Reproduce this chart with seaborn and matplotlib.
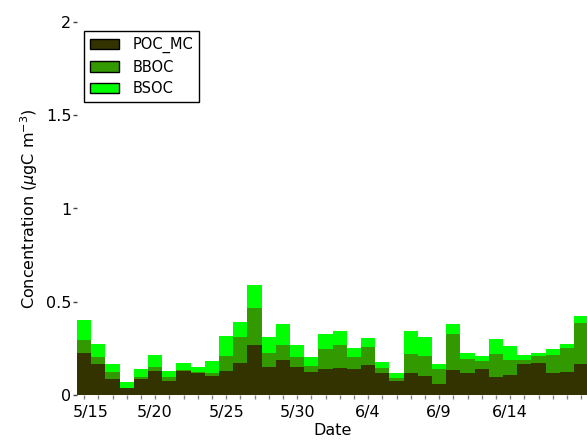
import numpy as np
import pandas as pd
import matplotlib
matplotlib.use("Agg")
import matplotlib.pyplot as plt
from matplotlib.patches import Patch
from matplotlib.transforms import ScaledTranslation
import seaborn as sns

dates = ["5/15", "5/16", "5/17", "5/18", "5/19", "5/20", "5/21", "5/22", "5/23",
         "5/24", "5/25", "5/26", "5/27", "5/28", "5/29", "5/30", "5/31", "6/1",
         "6/2", "6/3", "6/4", "6/5", "6/6", "6/7", "6/8", "6/9", "6/10", "6/11",
         "6/12", "6/13", "6/14", "6/15", "6/16", "6/17", "6/18", "6/19"]
poc_mc = [0.223, 0.164, 0.084, 0.036, 0.084, 0.127, 0.073, 0.127, 0.116, 0.100,
          0.127, 0.170, 0.266, 0.148, 0.186, 0.148, 0.122, 0.138, 0.143, 0.138,
          0.159, 0.116, 0.073, 0.116, 0.100, 0.057, 0.132, 0.116, 0.138, 0.095,
          0.105, 0.164, 0.170, 0.116, 0.122, 0.164]
bboc = [0.070, 0.038, 0.038, 0.003, 0.011, 0.021, 0.022, 0.005, 0.006, 0.016,
        0.080, 0.139, 0.199, 0.075, 0.080, 0.054, 0.032, 0.107, 0.123, 0.064,
        0.097, 0.027, 0.016, 0.102, 0.107, 0.081, 0.193, 0.075, 0.043, 0.123,
        0.081, 0.022, 0.037, 0.097, 0.128, 0.220]
bsoc = [0.107, 0.070, 0.042, 0.029, 0.043, 0.065, 0.032, 0.038, 0.026, 0.065,
        0.108, 0.081, 0.123, 0.086, 0.113, 0.064, 0.048, 0.080, 0.075, 0.048,
        0.048, 0.032, 0.027, 0.123, 0.102, 0.026, 0.054, 0.032, 0.026, 0.080,
        0.075, 0.027, 0.016, 0.032, 0.022, 0.038]
series_names = ["POC_MC", "BBOC", "BSOC"]
colors = ["#333300", "#339900", "#00ff00"]
tick_labels = ["5/15", "5/20", "5/25", "5/30", "6/4", "6/9", "6/14"]
y_ticks = [0, 0.5, 1, 1.5, 2]
y_tick_labels = ["0", "0.5", "1", "1.5", "2"]

plt.rcParams["font.family"] = ["DejaVu Sans"]

lvl1 = np.array(poc_mc)
lvl2 = lvl1 + np.array(bboc)
lvl3 = lvl2 + np.array(bsoc)

fig = plt.figure(figsize=(5.87, 4.40), dpi=100)
ax = fig.add_axes([77 / 587, 45 / 440, (588.3 - 77) / 587, 373 / 440])

for vals, col in zip([lvl3, lvl2, lvl1], colors[::-1]):
    sns.barplot(x=dates, y=vals, color=col, saturation=1, width=1.0,
                linewidth=0, edgecolor="none", ax=ax)

ax.set_xlim(-0.5, len(dates) - 0.5)
ax.set_ylim(0, 2)
for s in ax.spines.values():
    s.set_visible(False)

ax.set_xticks(range(len(dates)))
ax.set_xticklabels([d if d in tick_labels else "" for d in dates], fontsize=11.5)
ax.set_yticks(y_ticks)
ax.set_yticklabels(y_tick_labels, fontsize=11.5)
ax.tick_params(axis="x", length=3, width=1, color="#888888", pad=4)
ax.tick_params(axis="y", length=3, width=1, color="#444444", pad=1)

first = ax.get_xticklabels()[0]
first.set_transform(first.get_transform() + ScaledTranslation(7 / 100, 0, fig.dpi_scale_trans))

ax.set_xlabel("Date", fontsize=11.5, labelpad=2)
ax.set_ylabel(r"Concentration ($\mu$gC m$^{-3}$)", fontsize=11.5, labelpad=4)

handles = [Patch(facecolor=c, edgecolor="black", linewidth=1) for c in colors]
leg = fig.legend(handles, series_names, loc="upper left",
                 bbox_to_anchor=(84 / 587, 1 - 31 / 440), borderaxespad=0,
                 fontsize=10.5, fancybox=False, frameon=True, edgecolor="black",
                 framealpha=1, handlelength=2.0, handleheight=0.7,
                 handletextpad=0.9, labelspacing=0.45, borderpad=0.4)
leg.get_frame().set_linewidth(1)

fig.savefig("out.png", dpi=100)
